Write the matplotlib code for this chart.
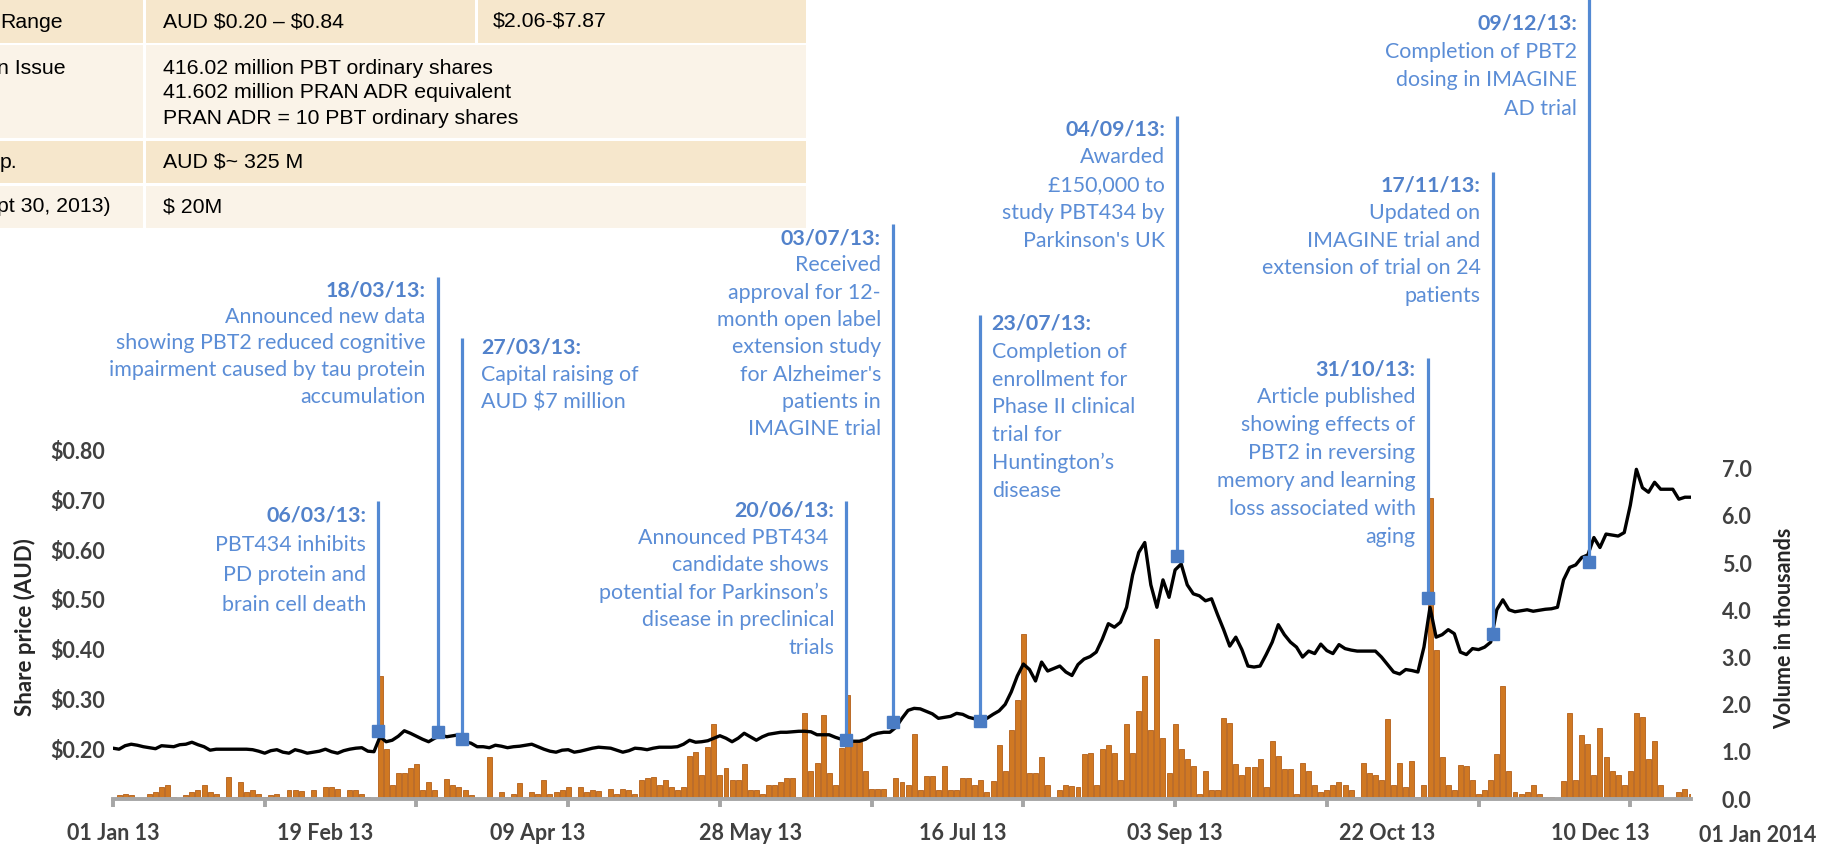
import numpy as np
import matplotlib.pyplot as plt
from matplotlib.patches import Rectangle
from matplotlib.transforms import offset_copy

plt.rcParams['font.family'] = ['Lato', 'DejaVu Sans']

W, H = 1833, 846

# daily volume in thousands, one value per trading day (index 0 = 01 Jan 13)
volume = [
    0.03, 0.08, 0.10, 0.08, 0.00, 0.02, 0.10, 0.15, 0.25, 0.30,
    0.05, 0.03, 0.08, 0.15, 0.20, 0.30, 0.15, 0.10, 0.05, 0.47,
    0.05, 0.35, 0.15, 0.20, 0.10, 0.05, 0.08, 0.10, 0.05, 0.20,
    0.20, 0.18, 0.05, 0.20, 0.03, 0.25, 0.25, 0.22, 0.05, 0.20,
    0.20, 0.10, 0.05, 0.00, 2.60, 1.05, 0.30, 0.55, 0.55, 0.65,
    0.75, 0.20, 0.37, 0.20, 0.05, 0.43, 0.30, 0.25, 0.20, 0.08,
    0.00, 0.00, 0.90, 0.00, 0.15, 0.05, 0.10, 0.34, 0.05, 0.15,
    0.10, 0.40, 0.10, 0.15, 0.20, 0.25, 0.05, 0.26, 0.15, 0.20,
    0.17, 0.05, 0.22, 0.10, 0.22, 0.20, 0.10, 0.40, 0.45, 0.47,
    0.30, 0.40, 0.25, 0.20, 0.25, 0.91, 1.00, 0.50, 1.10, 1.58,
    0.50, 0.65, 0.40, 0.40, 0.74, 0.20, 0.20, 0.10, 0.30, 0.30,
    0.37, 0.45, 0.45, 0.05, 1.83, 0.60, 0.77, 1.79, 0.55, 0.30,
    1.08, 2.20, 1.20, 1.20, 0.60, 0.22, 0.22, 0.22, 0.00, 0.45,
    0.35, 0.30, 1.37, 0.20, 0.48, 0.48, 0.20, 0.70, 0.20, 0.20,
    0.45, 0.45, 0.30, 0.40, 0.15, 0.38, 1.15, 0.60, 1.46, 2.10,
    3.50, 0.55, 0.55, 0.88, 0.30, 0.05, 0.20, 0.30, 0.28, 0.25,
    0.95, 0.97, 0.30, 1.05, 1.15, 0.98, 0.40, 1.58, 0.98, 1.86,
    2.60, 1.46, 3.40, 1.30, 0.55, 1.58, 1.05, 0.84, 0.70, 0.10,
    0.60, 0.20, 0.20, 1.72, 1.62, 0.74, 0.50, 0.67, 0.67, 0.84,
    0.25, 1.23, 0.91, 0.63, 0.63, 0.10, 0.77, 0.60, 0.30, 0.15,
    0.20, 0.30, 0.35, 0.30, 0.20, 0.05, 0.77, 0.55, 0.50, 0.40,
    1.69, 0.30, 0.77, 0.25, 0.80, 0.05, 0.30, 6.37, 3.16, 0.90,
    0.30, 0.20, 0.73, 0.70, 0.40, 0.10, 0.20, 0.40, 0.95, 2.40,
    0.60, 0.15, 0.10, 0.15, 0.30, 0.10, 0.05, 0.05, 0.00, 0.38,
    1.83, 0.40, 1.36, 1.17, 0.50, 1.50, 0.90, 0.60, 0.50, 0.30,
    0.60, 1.83, 1.73, 0.85, 1.22, 0.30, 0.02, 0.02, 0.15, 0.22,
    0.10,
]

# closing share price (AUD), same trading days
price = [
    0.202, 0.200, 0.207, 0.210, 0.208, 0.205, 0.203, 0.201, 0.207, 0.206,
    0.205, 0.209, 0.210, 0.214, 0.209, 0.205, 0.198, 0.200, 0.200, 0.200,
    0.200, 0.200, 0.200, 0.199, 0.196, 0.192, 0.197, 0.199, 0.194, 0.192,
    0.199, 0.196, 0.192, 0.194, 0.196, 0.200, 0.195, 0.192, 0.197, 0.200,
    0.202, 0.203, 0.196, 0.195, 0.225, 0.215, 0.218, 0.226, 0.237, 0.232,
    0.226, 0.220, 0.215, 0.222, 0.228, 0.225, 0.227, 0.229, 0.215, 0.212,
    0.205, 0.205, 0.203, 0.208, 0.206, 0.203, 0.205, 0.206, 0.208, 0.210,
    0.205, 0.200, 0.196, 0.194, 0.198, 0.199, 0.194, 0.196, 0.199, 0.202,
    0.204, 0.203, 0.202, 0.198, 0.194, 0.197, 0.202, 0.201, 0.199, 0.202,
    0.204, 0.204, 0.204, 0.205, 0.210, 0.218, 0.214, 0.215, 0.217, 0.222,
    0.227, 0.222, 0.215, 0.222, 0.232, 0.225, 0.218, 0.225, 0.230, 0.232,
    0.234, 0.234, 0.235, 0.236, 0.236, 0.235, 0.229, 0.229, 0.229, 0.224,
    0.220, 0.217, 0.216, 0.216, 0.220, 0.228, 0.232, 0.234, 0.234, 0.244,
    0.262, 0.278, 0.282, 0.281, 0.276, 0.271, 0.262, 0.264, 0.266, 0.272,
    0.270, 0.264, 0.261, 0.261, 0.262, 0.270, 0.277, 0.290, 0.315, 0.347,
    0.371, 0.360, 0.337, 0.375, 0.357, 0.362, 0.367, 0.355, 0.348, 0.370,
    0.381, 0.386, 0.395, 0.421, 0.452, 0.445, 0.455, 0.485, 0.550, 0.595,
    0.615, 0.530, 0.485, 0.540, 0.505, 0.560, 0.572, 0.530, 0.512, 0.508,
    0.498, 0.502, 0.470, 0.440, 0.407, 0.425, 0.400, 0.367, 0.365, 0.367,
    0.390, 0.415, 0.450, 0.430, 0.415, 0.405, 0.385, 0.397, 0.392, 0.411,
    0.398, 0.392, 0.410, 0.402, 0.399, 0.397, 0.397, 0.397, 0.397, 0.385,
    0.370, 0.355, 0.351, 0.360, 0.358, 0.355, 0.405, 0.485, 0.425, 0.430,
    0.440, 0.432, 0.395, 0.390, 0.402, 0.400, 0.405, 0.415, 0.480, 0.500,
    0.480, 0.476, 0.478, 0.480, 0.477, 0.479, 0.481, 0.482, 0.485, 0.540,
    0.565, 0.570, 0.585, 0.590, 0.625, 0.605, 0.632, 0.630, 0.628, 0.635,
    0.690, 0.762, 0.725, 0.716, 0.736, 0.722, 0.722, 0.722, 0.702, 0.706,
    0.706,
]

date_labels = ["01 Jan 13", "19 Feb 13", "09 Apr 13", "28 May 13", "16 Jul 13",
               "03 Sep 13", "22 Oct 13", "10 Dec 13"]
date_label_idx = [0, 35, 70, 105, 140, 175, 210, 245]
tick_idx = list(range(0, 251, 25))

price_ticks = [0.2, 0.3, 0.4, 0.5, 0.6, 0.7, 0.8]
volume_ticks = [0, 1, 2, 3, 4, 5, 6, 7]

# news events: position (trading-day index), marker price, top of leader, text
ev_x = [43.7, 53.5, 57.5, 120.8, 128.5, 142.8, 175.3, 216.6, 227.3, 243.2]
ev_mark = [0.237, 0.235, 0.220, 0.218, 0.255, 0.257, 0.588, 0.504, 0.431, 0.576]
ev_top = [0.698, 1.148, 1.026, 0.698, 1.255, 1.072, 1.471, 0.986, 1.359, 1.72]
ev_text_y = [0.670, 1.122, 1.006, 0.680, 1.2265, 1.054, 1.445, 0.963, 1.331, 1.658]
ev_side = ['L', 'L', 'R', 'L', 'L', 'R', 'L', 'L', 'L', 'L']
ev_spacing = [30, 26.7, 27.5, 27.5, 27.3, 27.8, 28, 28, 27.5, 28.6]
ev_dates = ["06/03/13:", "18/03/13:", "27/03/13:", "20/06/13:", "03/07/13:",
            "23/07/13:", "04/09/13:", "31/10/13:", "17/11/13:", "09/12/13:"]
ev_body = [
    ["PBT434 inhibits", "PD protein and", "brain cell death"],
    ["Announced new data", "showing PBT2 reduced cognitive",
     "impairment caused by tau protein", "accumulation"],
    ["Capital raising of", "AUD $7 million"],
    ["Announced PBT434 ", "candidate shows ", "potential for Parkinson\u2019s ",
     "disease in preclinical", "trials"],
    ["Received", "approval for 12-", "month open label", "extension study",
     "for Alzheimer's", "patients in", "IMAGINE trial"],
    ["Completion of", "enrollment for", "Phase II clinical", "trial for",
     "Huntington\u2019s", "disease"],
    ["Awarded", "\u00a3150,000 to", "study PBT434 by", "Parkinson's UK"],
    ["Article published", "showing effects of", "PBT2 in reversing",
     "memory and learning", "loss associated with", "aging"],
    ["Updated on", "IMAGINE trial and", "extension of trial on 24", "patients"],
    ["Completion of PBT2", "dosing in IMAGINE", "AD trial"],
]

# summary table (left part cropped in the source)
table_col1 = ["Range", "n Issue", "p.", "pt 30, 2013)"]
table_col2 = [["AUD $0.20 \u2013 $0.84"],
              ["416.02 million PBT ordinary shares",
               "41.602 million PRAN ADR equivalent",
               "PRAN ADR = 10 PBT ordinary shares"],
              ["AUD $~ 325 M"],
              ["$ 20M"]]
table_col3 = ["$2.06-$7.87", None, None, None]

BLUE_TXT = '#5B8DD6'
BLUE_DATE = '#5282CB'
BLUE_LINE = '#5389D3'
BLUE_MARK = '#4A7CC4'
GREY_TXT = '#404040'

fig = plt.figure(figsize=(W / 100, H / 100), dpi=100)
base = 799
ax = fig.add_axes([113 / W, (H - base) / H, (1691 - 113) / W, base / H])
ax2 = ax.twinx()
ax.set_zorder(ax2.get_zorder() + 1)
ax.patch.set_visible(False)

x = np.arange(len(volume))
ax2.bar(x, volume, width=0.82, color='#D07822', edgecolor='#B35E18', linewidth=0.6)
ax.plot(x, price, color='black', lw=2.4, zorder=3)

ax.set_xlim(0, 260)
ax.set_ylim(0.1, 0.1 + base / 498)
ax2.set_ylim(0, base / 47.2)

for s in ['top', 'left', 'right']:
    ax.spines[s].set_visible(False)
for s in ax2.spines.values():
    s.set_visible(False)
ax.spines['bottom'].set_color('#A6A6A6')
ax.spines['bottom'].set_linewidth(2.8)

ax.xaxis.remove_overlapping_locs = False
ax.set_xticks(tick_idx)
ax.set_xticklabels([])
ax.tick_params(axis='x', which='major', length=6, width=2.8, color='#A6A6A6')
ax.set_xticks(date_label_idx, minor=True)
ax.set_xticklabels(date_labels, minor=True)
ax.tick_params(axis='x', which='minor', length=0, pad=17, labelsize=15.5,
               labelcolor=GREY_TXT)
for lbl in ax.get_xticklabels(minor=True):
    lbl.set_fontweight('bold')
ax.annotate("01 Jan 2014", xy=(271, 0), xycoords=('data', 'axes fraction'),
            xytext=(0, -36), textcoords='offset pixels', ha='center', va='center',
            fontsize=15.5, fontweight='bold', color=GREY_TXT, annotation_clip=False)

ax.set_yticks(price_ticks)
ax.set_yticklabels([f"${v:.2f}" for v in price_ticks])
ax.tick_params(axis='y', length=0, pad=6, labelsize=15.5, labelcolor=GREY_TXT)
for lbl in ax.get_yticklabels():
    lbl.set_fontweight('bold')
ax2.set_yticks(volume_ticks)
ax2.set_yticklabels([f"{v:.1f}" for v in volume_ticks])
ax2.tick_params(axis='y', length=0, pad=22, labelsize=15.5, labelcolor=GREY_TXT)
for lbl in ax2.get_yticklabels():
    lbl.set_fontweight('bold')

fig.text(25 / W, 1 - 627 / H, "Share price (AUD)", rotation=90, ha='center',
         va='center', fontsize=16, fontweight='bold', color='#262626')
fig.text(1785 / W, 1 - 628 / H, "Volume in thousands", rotation=90, ha='center',
         va='center', fontsize=15.5, fontweight='bold', color='#262626')

# event leaders, markers and notes
for i in range(len(ev_x)):
    ax.plot([ev_x[i], ev_x[i]], [ev_mark[i], ev_top[i]], color=BLUE_LINE, lw=2.3,
            solid_capstyle='butt', clip_on=False, zorder=4)
    ax.plot(ev_x[i], ev_mark[i], marker='s', ms=8, color=BLUE_MARK, clip_on=False,
            zorder=5)
    if ev_side[i] == 'L':
        dx, ha = -12, 'right'
    else:
        dx, ha = 12 if i == 5 else 19, 'left'
    lines = [ev_dates[i]] + ev_body[i]
    for k, line in enumerate(lines):
        tr = offset_copy(ax.transData, fig=fig, x=dx, y=-k * ev_spacing[i], units='dots')
        ax.text(ev_x[i], ev_text_y[i], line, transform=tr, ha=ha, va='center',
                fontsize=15.4, color=BLUE_DATE if k == 0 else BLUE_TXT,
                fontweight='bold' if k == 0 else 'normal', zorder=6,
                parse_math=False)


# table drawn in figure pixel coordinates
def px_rect(x0, y0, x1, y1, color):
    fig.add_artist(Rectangle((x0 / W, 1 - y1 / H), (x1 - x0) / W, (y1 - y0) / H,
                             transform=fig.transFigure, facecolor=color,
                             edgecolor='none', zorder=10))


def px_text(xp, yp, s):
    fig.text(xp / W, 1 - yp / H, s, ha='left', va='center', fontsize=15.3,
             family='Liberation Sans', color='black', zorder=11, parse_math=False)


row_top = [0, 45, 141, 186]
row_bot = [43, 138, 183, 228]
row_col = ['#F6E7CC', '#FAF3E8', '#F6E7CC', '#FAF3E8']
for r in range(4):
    px_rect(-5, row_top[r], 143, row_bot[r], row_col[r])
    if table_col3[r] is None:
        px_rect(146, row_top[r], 806, row_bot[r], row_col[r])
    else:
        px_rect(146, row_top[r], 475, row_bot[r], row_col[r])
        px_rect(478, row_top[r], 806, row_bot[r], row_col[r])
        px_text(493, (row_top[r] + row_bot[r]) / 2, table_col3[r])
    first_y = 22 if r == 0 else (68 if r == 1 else (row_top[r] + row_bot[r]) / 2)
    px_text(-3 if r in (1, 3) else 0, first_y, table_col1[r])
    for k, s in enumerate(table_col2[r]):
        px_text(163, first_y + 25 * k, s)

fig.savefig("out.png", dpi=100)
